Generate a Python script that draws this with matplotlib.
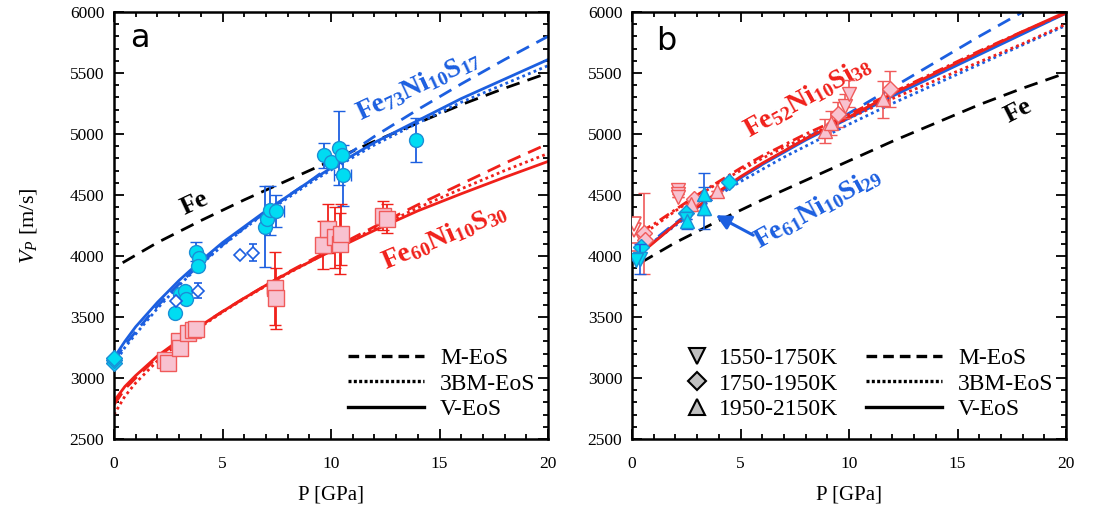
import numpy as np
import matplotlib
matplotlib.use('Agg')
import matplotlib.pyplot as plt
from matplotlib.lines import Line2D
from matplotlib.ticker import MultipleLocator

plt.rcParams['font.family'] = ['Liberation Serif', 'DejaVu Serif']
plt.rcParams['mathtext.fontset'] = 'custom'
plt.rcParams['mathtext.rm'] = 'Liberation Serif'
plt.rcParams['mathtext.it'] = 'Liberation Serif:italic'
plt.rcParams['mathtext.bf'] = 'Liberation Serif:bold'

# ---- colours
blue = '#1c5fe0'
cyan = '#00dcf2'
cyan_edge = '#1a8fd6'
red = '#f0201a'
pink = '#f8c2d0'
pink_edge = '#f05a5a'

# ---- panel a curves (P in GPa, Vp in m/s)
P_a = [0, 0.5, 1, 2, 3, 4, 5, 6, 7, 8, 9, 10, 12, 14, 16, 18, 20]
fe73_v = [3165, 3300, 3420, 3620, 3800, 3960, 4110, 4240, 4370, 4490, 4610, 4720, 4930, 5110, 5290, 5450, 5610]
fe73_m = [3140, 3270, 3380, 3590, 3770, 3940, 4090, 4230, 4360, 4490, 4610, 4740, 4980, 5200, 5410, 5610, 5800]
fe73_bm = [3110, 3250, 3360, 3570, 3760, 3930, 4085, 4225, 4355, 4475, 4595, 4705, 4910, 5090, 5260, 5410, 5560]
fe60_v = [2810, 2930, 3020, 3180, 3310, 3430, 3545, 3655, 3760, 3860, 3950, 4040, 4210, 4370, 4510, 4645, 4775]
fe60_m = [2780, 2910, 3000, 3170, 3305, 3430, 3545, 3655, 3760, 3865, 3960, 4055, 4240, 4420, 4590, 4760, 4920]
fe60_bm = [2700, 2850, 2960, 3140, 3290, 3420, 3540, 3650, 3755, 3855, 3950, 4045, 4225, 4395, 4550, 4700, 4840]

# pure Fe (M-EoS), same in both panels
P_fe = [0.4, 2, 4, 6, 8, 10, 12, 14, 16, 18, 20]
fe_m = [3945, 4110, 4290, 4460, 4620, 4780, 4940, 5090, 5240, 5375, 5500]

# ---- panel a data
circ_P = [2.8, 3.05, 3.25, 3.3, 3.8, 3.9, 3.85, 6.98, 7.06, 7.18, 7.48, 9.7, 10.0, 10.37, 10.5, 10.54, 13.9]
circ_V = [3530, 3690, 3715, 3645, 4035, 3985, 3920, 4240, 4305, 4375, 4370, 4825, 4770, 4885, 4825, 4660, 4950]
circ_err = [0, 0, 0, 0, 80, 0, 0, 330, 0, 200, 130, 100, 0, 300, 0, 250, 180]
circ_xerr = [0, 0, 0, 0, 0, 0, 0, 0, 0, 0, 0.35, 0, 0, 0, 0, 0.4, 0]
dia0_P = [0, 0, 0]
dia0_V = [3120, 3145, 3165]
odia_P = [2.85, 3.85, 5.8, 6.4]
odia_V = [3630, 3715, 4005, 4025]
odia_err = [0, 60, 0, 70]
sq_P = [2.35, 2.5, 2.98, 3.06, 3.4, 3.65, 3.8, 7.4, 7.48, 9.65, 9.85, 10.2, 10.4, 10.45, 12.4, 12.6]
sq_V = [3145, 3125, 3300, 3245, 3365, 3390, 3405, 3735, 3655, 4090, 4225, 4155, 4100, 4180, 4330, 4305]
sq_err = [0, 0, 0, 0, 0, 0, 0, 300, 250, 200, 200, 250, 250, 250, 120, 120]
sq_xerr = [0, 0, 0, 0, 0, 0, 0, 0.35, 0, 0, 0, 0, 0, 0, 0, 0.2]

# ---- panel b curves
P_b = [0.4, 1, 2, 3, 4, 5, 6, 7, 8, 9, 10, 12, 14, 16, 18, 20]
fe52_v = [4020, 4110, 4260, 4400, 4530, 4650, 4760, 4860, 4960, 5050, 5140, 5330, 5500, 5670, 5840, 6000]
fe52_m = [4200, 4260, 4380, 4500, 4610, 4720, 4820, 4910, 5000, 5080, 5160, 5340, 5510, 5680, 5840, 5990]
fe52_bm = [4170, 4240, 4370, 4490, 4600, 4700, 4800, 4890, 4975, 5055, 5130, 5290, 5440, 5590, 5740, 5900]
fe61_v = [4030, 4115, 4260, 4395, 4520, 4640, 4750, 4850, 4950, 5040, 5130, 5310, 5480, 5650, 5820, 5990]
fe61_m = [4050, 4130, 4270, 4400, 4520, 4640, 4750, 4860, 4960, 5070, 5170, 5380, 5590, 5800, 6000, 6190]
fe61_bm = [4040, 4120, 4250, 4380, 4500, 4610, 4710, 4810, 4900, 4990, 5080, 5250, 5410, 5570, 5730, 5890]

# ---- panel b data (Fe52Ni10Si38, pink)
pdn_P = [2.1, 2.1, 2.1, 9.8, 10.0]
pdn_V = [4540, 4510, 4480, 5230, 5330]
pdn_err = [0, 0, 0, 100, 110]
pdi_P = [0.55, 0.6, 2.85, 9.48, 11.87]
pdi_V = [4185, 4130, 4465, 5160, 5370]
pdi_err = [330, 0, 0, 100, 150]
pup_P = [2.7, 3.9, 8.9, 9.15, 11.57]
pup_V = [4425, 4530, 5025, 5090, 5285]
pup_err = [0, 0, 100, 100, 150]
popen_up_P = [0.1, 0.1, 0.1]
popen_up_V = [4040, 4100, 4160]
popen_dn_P = [0.1, 0.1]
popen_dn_V = [4215, 4265]

# ---- panel b data (Fe61Ni10Si29, cyan)
cdi_P = [0.4, 2.5, 4.47]
cdi_V = [4070, 4350, 4605]
cdn_P = [0.35, 0.2, 2.5]
cdn_V = [3975, 3965, 4300]
cdn_err = [120, 0, 0]
cup_P = [2.55, 3.32, 3.32]
cup_V = [4290, 4510, 4395]
cup_err = [70, 170, 170]

eos_labels = ['M-EoS', '3BM-EoS', 'V-EoS']
temp_labels = ['1550-1750K', '1750-1950K', '1950-2150K']


fig = plt.figure(figsize=(10.98, 5.16), dpi=100)
ax1 = fig.add_axes([114 / 1098, 77 / 516, 434 / 1098, 427 / 516])
ax2 = fig.add_axes([632 / 1098, 77 / 516, 434 / 1098, 427 / 516])

lw = 2.0
dash = (0, (5, 3))
dot = (0, (1, 1.2))

def style_axes(ax):
    ax.set_xlim(0, 20)
    ax.set_ylim(2500, 6000)
    ax.xaxis.set_major_locator(MultipleLocator(5))
    ax.xaxis.set_minor_locator(MultipleLocator(1))
    ax.yaxis.set_major_locator(MultipleLocator(500))
    ax.yaxis.set_minor_locator(MultipleLocator(100))
    ax.tick_params(which='both', direction='in', top=True, right=True, width=1.3)
    ax.tick_params(which='major', length=7, labelsize=12.5)
    ax.tick_params(which='minor', length=3.5)
    ax.tick_params(axis='x', pad=12)
    ax.tick_params(axis='y', pad=7)
    for s in ax.spines.values():
        s.set_linewidth(1.8)
    ax.set_xlabel('P [GPa]', fontsize=15, labelpad=10)

def eos_legend(ax):
    handles = [Line2D([], [], color='k', lw=2.4, ls=(0, (3.2, 1.8))),
               Line2D([], [], color='k', lw=2.4, ls=(0, (0.9, 0.7))),
               Line2D([], [], color='k', lw=2.4)]
    return ax.legend(handles, eos_labels, loc='lower right',
                     bbox_to_anchor=(1.015, 0.0), frameon=False, fontsize=17,
                     handlelength=3.2, handletextpad=0.7, labelspacing=0.17,
                     borderpad=0.3)

# ================= panel a
style_axes(ax1)
ax1.set_ylabel(r'$V_P$ [m/s]', fontsize=16, labelpad=22)

ax1.plot(P_fe, fe_m, color='k', lw=lw, ls=dash)
ax1.plot(P_a, fe73_m, color=blue, lw=lw, ls=dash)
ax1.plot(P_a, fe73_bm, color=blue, lw=lw, ls=dot)
ax1.plot(P_a, fe73_v, color=blue, lw=lw)
ax1.plot(P_a, fe60_m, color=red, lw=lw, ls=dash)
ax1.plot(P_a, fe60_bm, color=red, lw=lw, ls=dot)
ax1.plot(P_a, fe60_v, color=red, lw=lw)

ax1.errorbar(circ_P, circ_V, yerr=circ_err, xerr=circ_xerr, fmt='o', ms=10,
             mfc=cyan, mec=cyan_edge, mew=1, ecolor=blue, elinewidth=1.3, capsize=4, zorder=4)
ax1.plot(dia0_P, dia0_V, 'D', ms=8, mfc=cyan, mec=cyan_edge, clip_on=False, zorder=5)
ax1.errorbar(odia_P, odia_V, yerr=odia_err, fmt='D', ms=6, mfc='white', mec=blue,
             mew=1.2, ecolor=blue, elinewidth=1.2, capsize=3, zorder=4)
ax1.errorbar(sq_P, sq_V, yerr=sq_err, xerr=sq_xerr, fmt='s', ms=11,
             mfc=pink, mec=pink_edge, mew=1, ecolor=red, elinewidth=1.3, capsize=4, zorder=4)

ax1.text(1.2, 5780, 'a', family='DejaVu Sans', fontsize=23, ha='center', va='center')
ax1.text(3.7, 4430, 'Fe', fontsize=19, fontweight='bold', rotation=25,
         ha='center', va='center')
ax1.text(14.0, 5400, r'$\mathbf{Fe_{73}Ni_{10}S_{17}}$', color=blue, fontsize=20,
         rotation=25, ha='center', va='center')
ax1.text(15.25, 4160, r'$\mathbf{Fe_{60}Ni_{10}S_{30}}$', color=red, fontsize=20,
         rotation=23, ha='center', va='center')

eos_legend(ax1)

# ================= panel b
style_axes(ax2)

ax2.plot(P_fe, fe_m, color='k', lw=lw, ls=dash)
ax2.plot(P_b, fe61_m, color=blue, lw=lw, ls=dash)
ax2.plot(P_b, fe61_bm, color=blue, lw=lw, ls=dot)
ax2.plot(P_b, fe61_v, color=blue, lw=lw)
ax2.plot(P_b, fe52_m, color=red, lw=lw, ls=(0, (4, 1.5, 1, 1.5)))
ax2.plot(P_b, fe52_bm, color=red, lw=lw, ls=dot)
ax2.plot(P_b, fe52_v, color=red, lw=lw)

pk = dict(mfc=pink, mec=pink_edge, mew=1, ecolor=pink_edge, elinewidth=1.2, capsize=4, zorder=4)
ax2.plot(popen_up_P, popen_up_V, '^', ms=10, mfc='white', mec=pink_edge, mew=1.2, zorder=4)
ax2.plot(popen_dn_P, popen_dn_V, 'v', ms=10, mfc='white', mec=pink_edge, mew=1.2, zorder=4)
ax2.errorbar(pdn_P, pdn_V, yerr=pdn_err, fmt='v', ms=10, **pk)
ax2.errorbar(pdi_P, pdi_V, yerr=pdi_err, fmt='D', ms=8, **pk)
ax2.errorbar(pup_P, pup_V, yerr=pup_err, fmt='^', ms=10, **pk)

cy = dict(mfc=cyan, mec=cyan_edge, mew=1, ecolor=blue, elinewidth=1.2, capsize=4, zorder=5)
ax2.plot(cdi_P, cdi_V, 'D', ms=8, mfc=cyan, mec=cyan_edge, zorder=5)
ax2.errorbar(cdn_P, cdn_V, yerr=cdn_err, fmt='v', ms=10, **cy)
ax2.errorbar(cup_P, cup_V, yerr=cup_err, fmt='^', ms=10, **cy)

ax2.text(1.6, 5760, 'b', family='DejaVu Sans', fontsize=23, ha='center', va='center')
ax2.text(17.8, 5190, 'Fe', fontsize=19, fontweight='bold', rotation=27,
         ha='center', va='center')
ax2.text(8.1, 5300, r'$\mathbf{Fe_{52}Ni_{10}Si_{38}}$', color=red, fontsize=20,
         rotation=29, ha='center', va='center')
ax2.text(8.55, 4390, r'$\mathbf{Fe_{61}Ni_{10}Si_{29}}$', color=blue, fontsize=20,
         rotation=29, ha='center', va='center')
ax2.annotate('', xy=(3.75, 4345), xytext=(5.7, 4160),
             arrowprops=dict(arrowstyle='-|>', color=blue, lw=2.2, mutation_scale=22))

temp_handles = [Line2D([], [], ls='none', marker='v', ms=11, mfc='#c0c0c0', mec='k', mew=1.5),
                Line2D([], [], ls='none', marker='D', ms=9, mfc='#c0c0c0', mec='k', mew=1.5),
                Line2D([], [], ls='none', marker='^', ms=11, mfc='#c0c0c0', mec='k', mew=1.5)]
leg_t = ax2.legend(temp_handles, temp_labels, loc='lower left', bbox_to_anchor=(0.08, 0.0),
                   frameon=False, fontsize=17, handlelength=1.0, handletextpad=0.4,
                   labelspacing=0.17, borderpad=0.3)
ax2.add_artist(leg_t)
eos_legend(ax2)

fig.savefig('out.png', dpi=100)
